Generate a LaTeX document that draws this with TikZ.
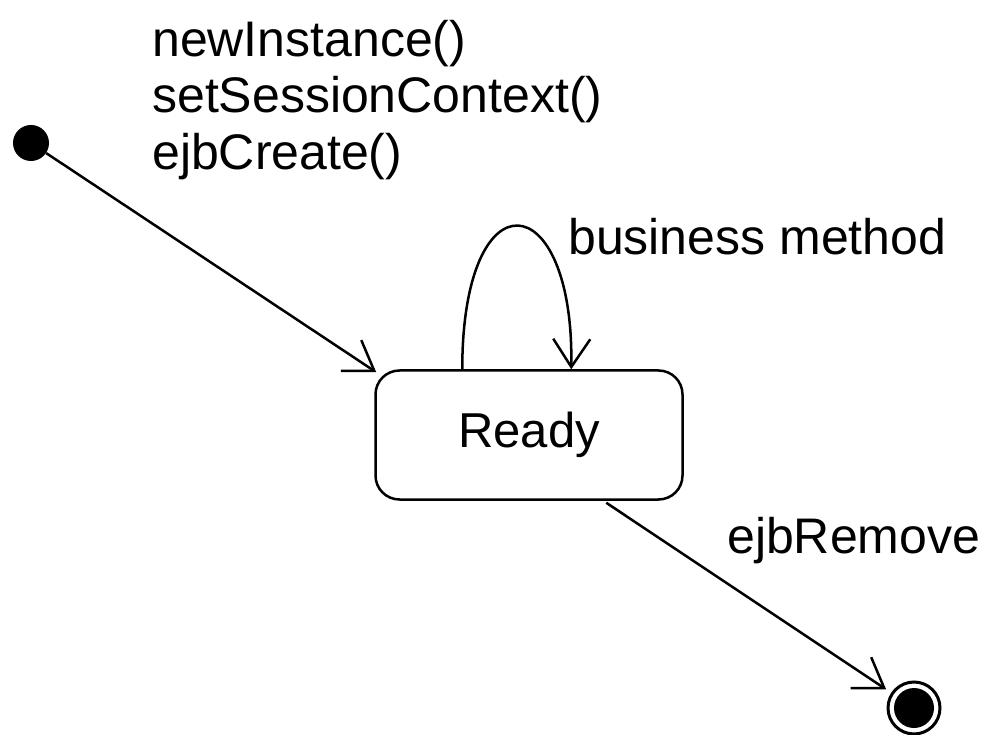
\documentclass[tikz,border=0pt]{standalone}
\usepackage{fontspec}
\setmainfont{Liberation Sans}
\usetikzlibrary{arrows.meta,calc}
\begin{document}
\begin{tikzpicture}[x=1pt,y=-1pt,
  lbl/.style={font=\fontsize{50}{57.5}\selectfont, inner sep=0pt, anchor=base west},
  conn/.style={line width=2.5pt, -{Straight Barb[length=28pt,width=37pt,line width=2.5pt]}},
  statebox/.style={draw, line width=2.5pt, rounded corners=24pt, minimum width=307pt, minimum height=129pt, font=\fontsize{49}{57.5}\selectfont, inner sep=0pt},
  initstate/.style={circle, fill=black, minimum size=36pt, inner sep=0pt},
  finalstate/.style={circle, draw, line width=3pt, minimum size=52pt, inner sep=0pt, path picture={\fill (path picture bounding box.center) circle (20pt);}}
]
\useasboundingbox (0,0) rectangle (983,735);
\node[initstate] (init) at (31,143) {};
\node[statebox] (ready) at (529,435) {Ready};
\node[finalstate] (final) at (914,708) {};
\node[lbl] (t1) at (152,56.5) {newInstance()};
\node[lbl] (t2) at (152,113) {setSessionContext()};
\node[lbl] (t3) at (152,170) {ejbCreate()};
\node[lbl] (bm) at (568,255) {business method};
\node[lbl] (er) at (727,553) {ejbRemove};
\coordinate (inTip) at ($(ready.north west)+(2,3)$);
\coordinate (loopA) at ($(ready.north west)+(88,0)$);
\coordinate (loopB) at ($(ready.north west)+(197,0)$);
\coordinate (outS) at ($(ready.south west)+(232,2)$);
\draw[conn] (init) -- (inTip);
\draw[conn] (loopA) .. controls ($(loopA)+(0,-197)$) and ($(loopB)+(3,-185)$) .. (loopB);
\draw[conn, shorten >=6pt] (outS) -- (final);
\end{tikzpicture}
\end{document}
